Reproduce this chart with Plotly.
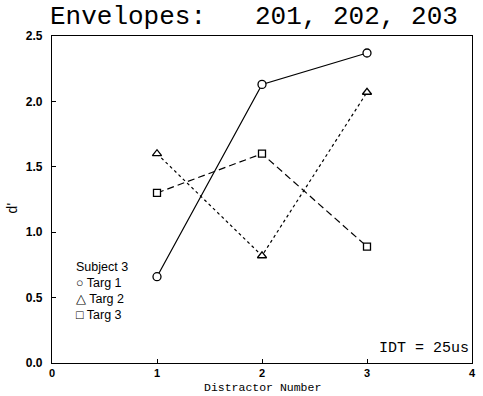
import plotly.graph_objects as go

# Distractor number on the x axis, d' on the y axis
distractors = [1, 2, 3]
targ1 = [0.66, 2.13, 2.37]
targ2 = [1.60, 0.82, 2.07]
targ3 = [1.30, 1.60, 0.89]

series_names = ["Targ 1", "Targ 2", "Targ 3"]
series_values = [targ1, targ2, targ3]
series_symbols = ["circle", "triangle-up", "square"]
series_dash = ["solid", "3px,3px", "7px,4px"]
series_sizes = [8, 8, 7]

y_ticks = [0.0, 0.5, 1.0, 1.5, 2.0, 2.5]
x_ticks = [0, 1, 2, 3, 4]

fig = go.Figure()
for name, vals, sym, dash, size in zip(series_names, series_values,
                                       series_symbols, series_dash, series_sizes):
    fig.add_trace(go.Scatter(
        x=distractors, y=vals, name=name, mode="lines+markers",
        line=dict(color="black", width=1.2, dash=dash),
        marker=dict(symbol=sym, size=size, color="white",
                    line=dict(color="black", width=1.3)),
        showlegend=False,
    ))

tick_font = dict(family="Liberation Sans", size=12, color="black", weight="bold")

fig.update_xaxes(
    range=[0, 4], tickvals=x_ticks, ticktext=[str(v) for v in x_ticks],
    ticks="inside", ticklen=4, tickwidth=1, tickcolor="black",
    showline=True, linecolor="black", linewidth=1.3, mirror=True,
    showgrid=False, zeroline=False,
    tickfont=dict(family="Liberation Sans", size=11, color="black", weight="bold"),
    ticklabelstandoff=0,
)
fig.update_yaxes(
    range=[0, 2.5], tickvals=y_ticks, ticktext=[f"{v:.1f}" for v in y_ticks],
    ticks="inside", ticklen=4, tickwidth=1, tickcolor="black",
    showline=True, linecolor="black", linewidth=1.3, mirror=True,
    showgrid=False, zeroline=False, tickfont=tick_font, ticklabelstandoff=6,
)

PLOT_B = 33
fig.update_layout(
    width=483, height=396,
    margin=dict(l=52, r=7, t=36, b=PLOT_B),
    plot_bgcolor="white", paper_bgcolor="white",
)
H = 396 - 36 - PLOT_B
W = 424
BOTTOM = 396 - PLOT_B

mono = "Liberation Mono"
fig.add_annotation(text="Envelopes:", xref="paper", yref="paper",
                   x=(48 - 52) / W, y=(BOTTOM - 17) / H, xanchor="left", yanchor="middle",
                   showarrow=False, font=dict(family=mono, size=26, color="black"))
fig.add_annotation(text="201, 202, 203", xref="paper", yref="paper",
                   x=(464 - 52) / W, y=(BOTTOM - 17) / H, xanchor="right", yanchor="middle",
                   showarrow=False, font=dict(family=mono, size=26, color="black"))

fig.add_annotation(text="Distractor Number", xref="paper", yref="paper",
                   x=0.5, y=-(396 - BOTTOM) / H, xanchor="center", yanchor="bottom",
                   showarrow=False, font=dict(family=mono, size=11.5, color="black"))
fig.add_annotation(text="d'", xref="paper", yref="paper",
                   x=-40 / W, y=(BOTTOM - 208) / H, xanchor="center", yanchor="middle",
                   textangle=-90, showarrow=False,
                   font=dict(family="Liberation Sans", size=14, color="black"))

# key block
key_font = dict(family="Liberation Sans", size=12.5, color="black")
key_lines = ["Subject 3", "○ Targ 1", "△ Targ 2", "□ Targ 3"]
key_y = [267, 283, 299, 315]
for txt, yp in zip(key_lines, key_y):
    fig.add_annotation(text=txt, xref="paper", yref="paper",
                       x=(74 - 52) / W, y=(BOTTOM - yp) / H,
                       xanchor="left", yanchor="middle", showarrow=False, font=key_font)

fig.add_annotation(text="IDT = 25us", xref="paper", yref="paper",
                   x=(475 - 52) / W, y=(BOTTOM - 348) / H,
                   xanchor="right", yanchor="middle", showarrow=False,
                   font=dict(family=mono, size=15, color="black"))

fig.write_html("out.html")
